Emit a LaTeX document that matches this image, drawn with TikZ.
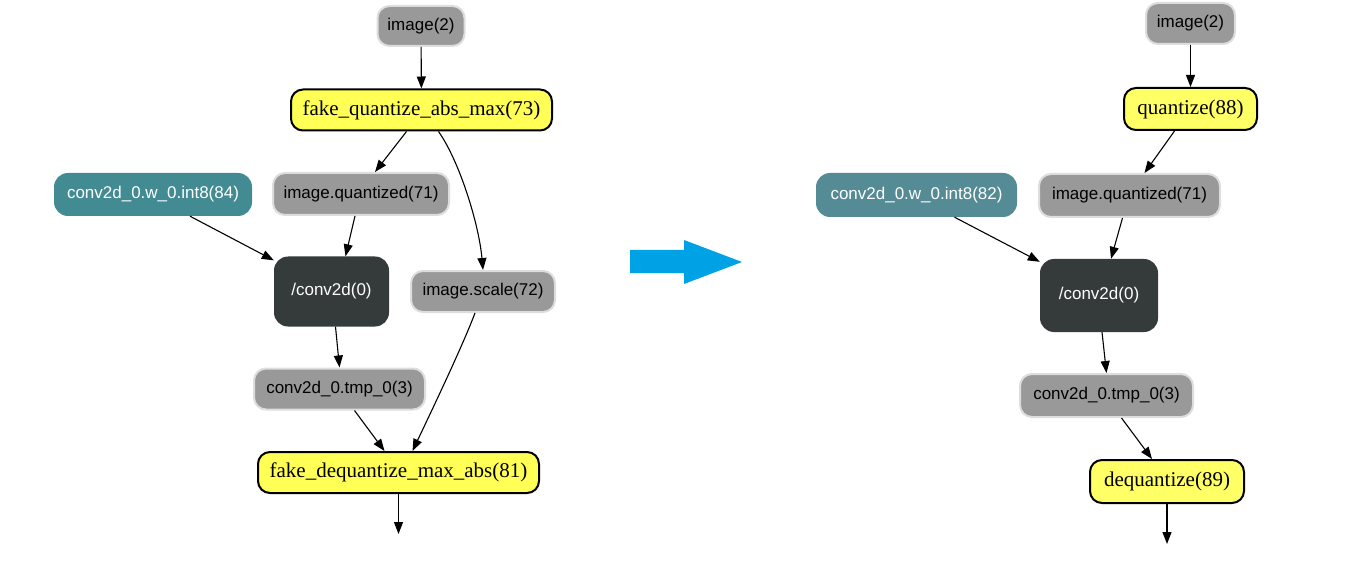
\documentclass[tikz,border=0pt]{standalone}
\usepackage{fontspec}
\setmainfont{Liberation Serif}
\setsansfont{Liberation Sans}
\usetikzlibrary{arrows.meta,calc}
\definecolor{grayfill}{HTML}{999999}
\definecolor{grayline}{HTML}{DDDDDD}
\definecolor{yel}{HTML}{FFFF55}
\definecolor{yelb}{HTML}{FFFF66}
\definecolor{dark}{HTML}{353B3B}
\definecolor{tealA}{HTML}{428B93}
\definecolor{tealB}{HTML}{548B95}
\definecolor{bluearrow}{HTML}{00A2E6}
\tikzset{
  box/.style={rounded corners=12pt, inner sep=0pt, align=center},
  graybox/.style={box, fill=grayfill, draw=grayline, line width=2pt,
    font=\sffamily\fontsize{17}{19}\selectfont, text=black},
  yelbox/.style={box, fill=yel, draw=black, line width=2pt,
    font=\rmfamily\fontsize{21}{24}\selectfont, text=black},
  tealbox/.style={box, fill=tealA, rounded corners=14pt,
    font=\sffamily\fontsize{17}{19}\selectfont, text=white},
  darkbox/.style={box, fill=dark, rounded corners=14pt,
    font=\sffamily\fontsize{17}{19}\selectfont, text=white},
  edge/.style={line width=1.1pt, -{Triangle[length=12pt,width=9pt]}},
}
\begin{document}
\begin{tikzpicture}[x=1pt,y=-1pt]
\useasboundingbox (0,0) rectangle (1371,572);
% ---------- left graph ----------
\node[graybox, minimum width=87pt, minimum height=40pt] (Limg) at (421,26) {image(2)};
\node[yelbox, minimum width=261pt, minimum height=41pt] (Lfq) at (421.5,110) {fake\_quantize\_abs\_max(73)};
\node[tealbox, minimum width=198pt, minimum height=43pt] (Lw) at (153,194.5) {conv2d\_0.w\_0.int8(84)};
\node[graybox, minimum width=176pt, minimum height=42pt] (Lq) at (361,194) {image.quantized(71)};
\node[darkbox, minimum width=115pt, minimum height=70pt] (Lconv) at (331.5,291.5) {/conv2d(0)};
\node[graybox, minimum width=144pt, minimum height=41pt] (Lscale) at (483,291.5) {image.scale(72)};
\node[graybox, minimum width=171pt, minimum height=41pt] (Ltmp) at (339.5,389) {conv2d\_0.tmp\_0(3)};
\node[yelbox, minimum width=281pt, minimum height=41pt] (Lfdq) at (398.5,472.5) {fake\_dequantize\_max\_abs(81)};
\coordinate (Lend) at (398.5,534);

\draw[edge] (Limg) -- (Lfq);
\draw[edge] ([xshift=-15pt]Lfq.south) -- ([xshift=14pt]Lq.north);
\draw[edge] ([xshift=17pt]Lfq.south) .. controls (460,162) and (479,225) .. (Lscale.north);
\draw[edge] ([xshift=37pt]Lw.south) -- ([yshift=-4pt]Lconv.north west);
\draw[edge] ([xshift=-6pt]Lq.south) -- ([xshift=14pt]Lconv.north);
\draw[edge] ([xshift=4pt]Lconv.south) -- (Ltmp.north);
\draw[edge] ([xshift=-8pt]Lscale.south) .. controls (463,345) and (432,410) .. ([xshift=14pt]Lfdq.north);
\draw[edge] ([xshift=15pt]Ltmp.south) -- ([xshift=-14pt]Lfdq.north);
\draw[edge] (Lfdq) -- (Lend);

% ---------- blue arrow ----------
\fill[bluearrow] (630,250) -- (684,250) -- (684,240) -- (742,262) -- (684,284) -- (684,273) -- (630,273) -- cycle;

% ---------- right graph ----------
\node[graybox, minimum width=89pt, minimum height=41pt] (Rimg) at (1190.5,23.5) {image(2)};
\node[yelbox, fill=yelb, minimum width=133pt, minimum height=42pt] (Rq) at (1190.5,109) {quantize(88)};
\node[tealbox, fill=tealB, minimum width=201pt, minimum height=44pt] (Rw) at (916.5,195) {conv2d\_0.w\_0.int8(82)};
\node[graybox, minimum width=181pt, minimum height=43pt] (Rqz) at (1129.5,195.5) {image.quantized(71)};
\node[darkbox, minimum width=118pt, minimum height=73pt] (Rconv) at (1099,295.5) {/conv2d(0)};
\node[graybox, minimum width=173pt, minimum height=43pt] (Rtmp) at (1106.5,395.5) {conv2d\_0.tmp\_0(3)};
\node[yelbox, fill=yelb, minimum width=154pt, minimum height=43pt] (Rdq) at (1167,481.5) {dequantize(89)};
\coordinate (Rend) at (1167,544);

\draw[edge] (Rimg) -- (Rq);
\draw[edge] ([xshift=-16pt]Rq.south) -- ([xshift=15pt]Rqz.north);
\draw[edge] ([xshift=38pt]Rw.south) -- ([yshift=-3pt]Rconv.north west);
\draw[edge] ([xshift=-7pt]Rqz.south) -- ([xshift=12pt]Rconv.north);
\draw[edge] ([xshift=3pt]Rconv.south) -- (Rtmp.north);
\draw[edge] ([xshift=15pt]Rtmp.south) -- ([xshift=-15pt]Rdq.north);
\draw[edge] (Rdq) -- (Rend);
\end{tikzpicture}
\end{document}
